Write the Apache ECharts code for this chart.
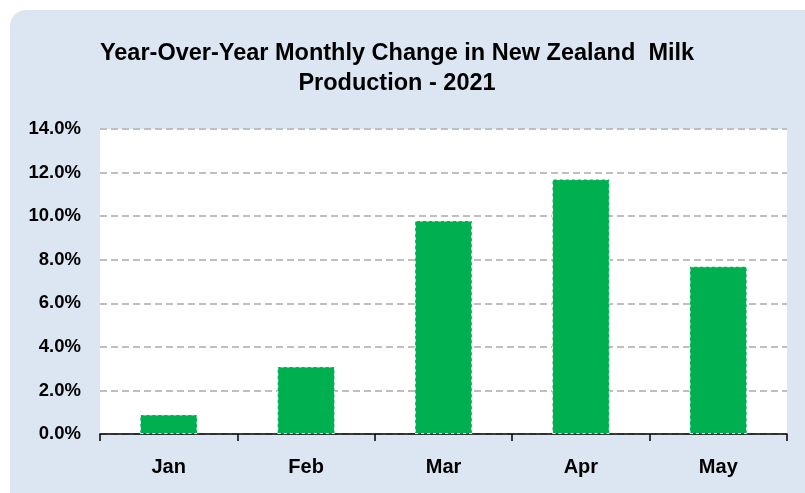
<!DOCTYPE html>
<html>
<head>
<meta charset="utf-8">
<script src="https://cdn.jsdelivr.net/npm/echarts@6/dist/echarts.min.js"></script>
<style>html,body{margin:0;padding:0;background:#fff;}#c{width:805px;height:493px;}</style>
</head>
<body>
<div id="c"></div>
<script>
var categories = ['Jan', 'Feb', 'Mar', 'Apr', 'May'];
var yoyChange = [0.9, 3.1, 9.8, 11.7, 7.7];
var titleLines = ['Year-Over-Year Monthly Change in New Zealand  Milk', 'Production - 2021'];

var FONT = '"Liberation Sans", Arial, sans-serif';
var chart = echarts.init(document.getElementById('c'), null, {renderer: 'canvas'});
chart.setOption({
  animation: false,
  graphic: [{
    type: 'rect', z: -10, silent: true,
    shape: {x: 10, y: 10, width: 810, height: 500, r: 16},
    style: {fill: '#dce6f2'}
  }],
  title: {
    text: titleLines.join('\n'),
    left: 392, top: 34, textAlign: 'center',
    textStyle: {fontFamily: FONT, fontWeight: 'bold', fontSize: 23.5, color: '#000', lineHeight: 30}
  },
  grid: {left: 100, right: 18, top: 129, bottom: 59, show: true, backgroundColor: '#fff', borderWidth: 0},
  xAxis: {
    type: 'category', data: categories,
    axisLine: {lineStyle: {color: '#000', width: 1.5}},
    axisTick: {show: true, alignWithLabel: false, length: 7, lineStyle: {color: '#000', width: 1.5}},
    axisLabel: {fontFamily: FONT, fontWeight: 'bold', fontSize: 20, color: '#000', margin: 23}
  },
  yAxis: {
    type: 'value', min: 0, max: 14, interval: 2,
    axisLine: {show: false}, axisTick: {show: false},
    axisLabel: {fontFamily: FONT, fontWeight: 'bold', fontSize: 18.5, color: '#000', margin: 19,
      formatter: function (v) { return v.toFixed(1) + '%'; }},
    splitLine: {lineStyle: {color: '#bfbfbf', width: 2, type: [7, 4]}}
  },
  series: [{
    type: 'bar', data: yoyChange, barWidth: '42%',
    itemStyle: {color: '#00b050', borderColor: '#ffffff', borderWidth: 1, borderType: [3, 3]}
  }]
});
</script>
</body>
</html>
